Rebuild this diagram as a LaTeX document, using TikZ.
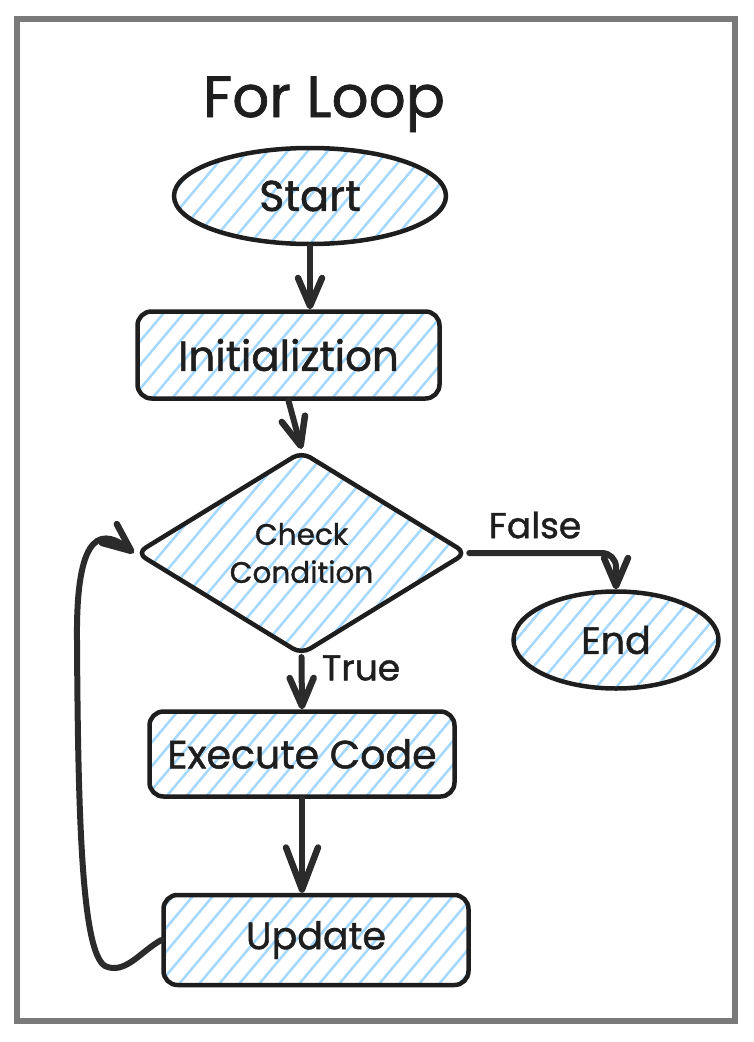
\documentclass[tikz,border=0pt]{standalone}
\usepackage{fontspec}
\setmainfont{Poppins}[FakeBold=1.2]
\usetikzlibrary{shapes.geometric,arrows.meta}
\definecolor{hatchc}{HTML}{A5D8FF}
\definecolor{ink}{HTML}{1E1E1E}
\definecolor{arrowc}{HTML}{2B2B2B}
\definecolor{framec}{HTML}{7A7A7A}
\tikzset{
 hatchfill/.style={path picture={
   \foreach \k in {-22,...,22} {
     \draw[hatchc, line width=2.5pt, line cap=butt]
       ([xshift=\k*20pt-168pt, yshift=-200pt]path picture bounding box.center) --
       ([xshift=\k*20pt+168pt, yshift=200pt]path picture bounding box.center);
   }}},
 shapebase/.style={draw=ink, line width=4.5pt, hatchfill, inner sep=0pt, text=ink, font=\fontsize{38}{46}\selectfont},
 boxnode/.style={shapebase, rectangle, rounded corners=14pt},
 ellnode/.style={shapebase, ellipse},
 dianode/.style={shapebase, diamond, rounded corners=10pt, font=\fontsize{29.5}{38}\selectfont, align=center},
 flow/.style={draw=arrowc, line width=6pt, line cap=round, line join=round, -{Straight Barb[round,length=28pt,width=24pt,line width=6.5pt]}},
 bigflow/.style={flow, -{Straight Barb[round,length=42pt,width=32pt,line width=6.5pt]}},
 lbl/.style={text=ink, font=\fontsize{36}{42}\selectfont, inner sep=0pt},
 titlestyle/.style={text=ink, font=\fontsize{58}{66}\selectfont, inner sep=0pt},
}
\begin{document}
\begin{tikzpicture}[x=1pt,y=-1pt]
\useasboundingbox (0,0) rectangle (754,1042);
\draw[framec, line width=6.5pt] (17,19) rectangle (735,1021);
\node[titlestyle, anchor=base] (title) at (324,117) {For Loop};
\node[ellnode, minimum width=272pt, minimum height=96pt, font=\fontsize{43}{50}\selectfont] (start) at (310,196) {Start};
\node[boxnode, minimum width=302pt, minimum height=87pt, font=\fontsize{42}{50}\selectfont] (init) at (288.5,355) {Initializtion};
\node[dianode, minimum width=331pt, minimum height=185pt] (cond) at (301.5,553) {Check\\Condition};
\node[ellnode, minimum width=205pt, minimum height=97pt] (end) at (616,640) {End};
\node[boxnode, minimum width=305pt, minimum height=85pt, font=\fontsize{39.5}{46}\selectfont] (exec) at (302,754) {Execute Code};
\node[boxnode, minimum width=305pt, minimum height=90pt] (upd) at (316,940) {Update};
\draw[flow] (start.south) -- (start.south |- init.north);
\draw[flow] (init.south) -- (cond.north);
\draw[flow] (cond.south) -- (exec.north);
\node[lbl] (truelbl) at (361,668) {True};
\draw[bigflow] (exec.south) -- (exec.south |- upd.north);
\draw[flow, rounded corners=14pt] (cond.east) -| (end.north);
\node[lbl] (falselbl) at (535,525) {False};
\draw[flow] (upd.west) .. controls (140,952) and (125,975) .. (105,966)
  .. controls (82,952) and (78,820) .. (77,640)
  .. controls (76,545) and (95,522) .. (cond.west);
\end{tikzpicture}
\end{document}
